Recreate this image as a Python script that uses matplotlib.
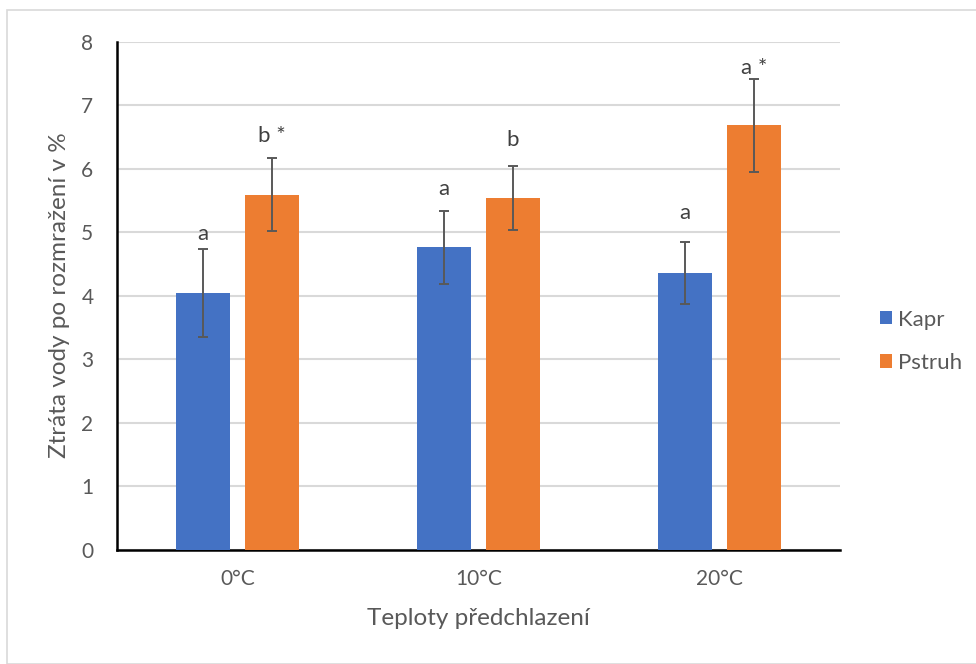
import numpy as np
import matplotlib.pyplot as plt
from matplotlib.patches import Rectangle

# teploty predchlazeni a namerene ztraty vody (prumer +- sm. odchylka)
teploty = ['0°C', '10°C', '20°C']
kapr = [4.04, 4.76, 4.36]
kapr_err = [0.69, 0.58, 0.49]
pstruh = [5.59, 5.54, 6.68]
pstruh_err = [0.58, 0.50, 0.74]
kapr_pismena = ['a', 'a', 'a']
pstruh_pismena = ['b *', 'b', 'a *']

plt.rcParams['font.family'] = ['Lato', 'DejaVu Sans']

fig = plt.figure(figsize=(9.76, 6.64), dpi=100)
ax = fig.add_axes([0.1199, 0.1724, 0.7408, 0.7648])

# ramecek kolem celeho grafu
fig.patches.append(Rectangle((0.007, 0.0), 0.995, 0.985, transform=fig.transFigure,
                             fill=False, edgecolor='#d9d9d9', linewidth=1.2))

x = np.arange(len(teploty))
sirka = 0.224
posun = 0.1425
modra = '#4472C4'
oranz = '#ED7D31'
seda = '#595959'

ax.bar(x - posun, kapr, sirka, color=modra, label='Kapr', zorder=3)
ax.bar(x + posun, pstruh, sirka, color=oranz, label='Pstruh', zorder=3)
ax.errorbar(x - posun, kapr, yerr=kapr_err, fmt='none', ecolor=seda,
            elinewidth=1.4, capsize=3.9, capthick=1.4, zorder=4)
ax.errorbar(x + posun, pstruh, yerr=pstruh_err, fmt='none', ecolor=seda,
            elinewidth=1.4, capsize=3.9, capthick=1.4, zorder=4)

# pismena statisticke vyznamnosti nad chybovymi useckami (rucne posunuta)
kapr_odsazeni = [6.5, 11.5, 16]
pstruh_odsazeni = [11.5, 14.5, 3.6]
for i in range(len(teploty)):
    ax.annotate(kapr_pismena[i], (x[i] - posun, kapr[i] + kapr_err[i]),
                xytext=(0, kapr_odsazeni[i]), textcoords='offset points',
                ha='center', va='baseline', fontsize=16, color='#404040')
    ax.annotate(pstruh_pismena[i], (x[i] + posun, pstruh[i] + pstruh_err[i]),
                xytext=(0, pstruh_odsazeni[i]), textcoords='offset points',
                ha='center', va='baseline', fontsize=16, color='#404040')

ax.set_xlim(-0.5, 2.5)
ax.set_ylim(0, 8)
ax.set_yticks(range(0, 9))
ax.set_xticks(x)
ax.set_xticklabels(teploty)
ax.yaxis.grid(True, color='#d9d9d9', linewidth=1.5, zorder=0)
ax.set_axisbelow(True)
ax.tick_params(axis='both', length=0, labelsize=15, labelcolor=seda)
ax.tick_params(axis='y', pad=17)
ax.tick_params(axis='x', pad=14)
for s in ['top', 'right']:
    ax.spines[s].set_visible(False)
ax.spines['left'].set_linewidth(1.8)
ax.spines['bottom'].set_linewidth(1.8)
ax.spines['left'].set_color('black')
ax.spines['bottom'].set_color('black')

ax.set_xlabel('Teploty předchlazení', fontsize=17.5, color=seda, labelpad=13.5)
ax.set_ylabel('Ztráta vody po rozmražení v %', fontsize=17.5, color=seda, labelpad=8)

ax.legend(loc='center left', bbox_to_anchor=(1.027, 0.41), frameon=False,
          fontsize=16, labelcolor=seda, handlelength=0.55, handleheight=0.55,
          handletextpad=0.3, labelspacing=1.05)

fig.savefig('out.png', dpi=100)
